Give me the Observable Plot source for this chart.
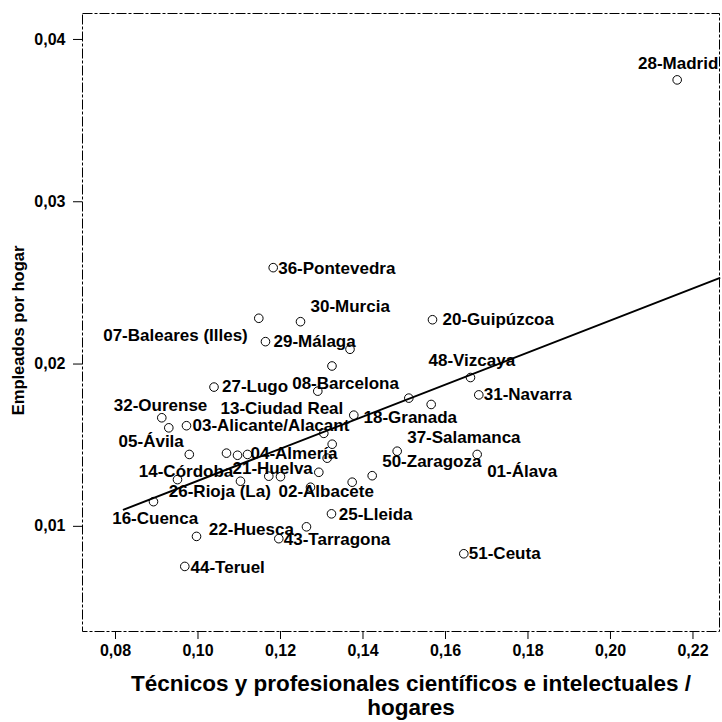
<!DOCTYPE html>
<html>
<head>
<meta charset="utf-8">
<script src="https://cdn.jsdelivr.net/npm/d3@7"></script>
<script src="https://cdn.jsdelivr.net/npm/@observablehq/plot@0.6"></script>
<style>
  html, body { margin: 0; padding: 0; background: #fff; }
  #chart svg { display: block; }
</style>
</head>
<body>
<div id="chart"></div>
<script>
// ---------- data ----------
const provinces = [
  "28-Madrid", "36-Pontevedra", "30-Murcia", "07-Baleares (Illes)", "29-Málaga",
  "", "", "20-Guipúzcoa", "48-Vizcaya", "31-Navarra",
  "27-Lugo", "08-Barcelona", "32-Ourense", "13-Ciudad Real", "03-Alicante/Alacant",
  "", "37-Salamanca", "18-Granada", "", "",
  "50-Zaragoza", "01-Álava", "05-Ávila", "", "",
  "04-Almería", "", "", "26-Rioja (La)", "",
  "21-Huelva", "", "", "14-Córdoba", "02-Albacete",
  "16-Cuenca", "25-Lleida", "", "22-Huesca", "43-Tarragona",
  "44-Teruel", "51-Ceuta"
];
const tecnicosPorHogar = [
  0.21617, 0.11823, 0.12485, 0.11474, 0.11636,
  0.13685, 0.13248, 0.15685, 0.16606, 0.16807,
  0.10388, 0.12904, 0.09122, 0.09292, 0.09721,
  0.15111, 0.15653, 0.13777, 0.13050, 0.13253,
  0.14829, 0.16768, 0.09789, 0.10691, 0.10958,
  0.11200, 0.13132, 0.12929, 0.11716, 0.12000,
  0.11030, 0.14223, 0.13738, 0.09503, 0.12727,
  0.08921, 0.13236, 0.12630, 0.09964, 0.11959,
  0.09680, 0.16444
];
const empleadosPorHogar = [
  0.03751, 0.02594, 0.02261, 0.02282, 0.02138,
  0.02091, 0.01988, 0.02273, 0.01917, 0.01810,
  0.01858, 0.01833, 0.01669, 0.01607, 0.01620,
  0.01790, 0.01751, 0.01685, 0.01573, 0.01506,
  0.01463, 0.01443, 0.01443, 0.01451, 0.01438,
  0.01443, 0.01420, 0.01333, 0.01309, 0.01306,
  0.01278, 0.01312, 0.01272, 0.01288, 0.01241,
  0.01152, 0.01077, 0.00997, 0.00938, 0.00924,
  0.00753, 0.00831
];
const xTicks = [0.08, 0.10, 0.12, 0.14, 0.16, 0.18, 0.20, 0.22];
const yTicks = [0.01, 0.02, 0.03, 0.04];
// linear fit line: y = intercept + slope * x, drawn over this x range
const fitIntercept = 0.00293;
const fitSlope = 0.0988;
const fitXRange = [0.082, 0.2264];
const xTitle = "Técnicos y profesionales científicos e intelectuales /\nhogares";
const yTitle = "Empleados por hogar";

// ---------- layout (label placement, pixels) ----------
const labelLayout = {
  "28-Madrid": ["middle", 1, -16],
  "36-Pontevedra": ["start", 5, 1],
  "30-Murcia": ["start", 10, -15],
  "07-Baleares (Illes)": ["end", -11, 17],
  "29-Málaga": ["start", 8, 0],
  "20-Guipúzcoa": ["start", 10, 0],
  "48-Vizcaya": ["start", -42, -16.5],
  "31-Navarra": ["start", 5, 0],
  "27-Lugo": ["start", 8, -1],
  "08-Barcelona": ["start", -25.6, -8],
  "32-Ourense": ["start", -48, -12.7],
  "13-Ciudad Real": ["start", 51.7, -19.5],
  "03-Alicante/Alacant": ["start", 6, 0],
  "37-Salamanca": ["start", -24, 33.4],
  "18-Granada": ["start", 9.7, 2],
  "50-Zaragoza": ["start", -15, 10],
  "01-Álava": ["start", 10, 16.7],
  "05-Ávila": ["end", -5.5, -13.3],
  "04-Almería": ["start", 3, -1.3],
  "26-Rioja (La)": ["start", -100, 15.7],
  "21-Huelva": ["start", -8, -13],
  "14-Córdoba": ["start", -38.7, -8.3],
  "02-Albacete": ["start", -32, 4.7],
  "16-Cuenca": ["start", -41.3, 16.4],
  "25-Lleida": ["start", 7.3, 0.8],
  "22-Huesca": ["start", 12.3, -6.7],
  "43-Tarragona": ["start", 5, 1],
  "44-Teruel": ["start", 5.7, 1],
  "51-Ceuta": ["start", 5, 0]
};

const fmt = d => d.toFixed(2).replace(".", ",");
const points = provinces.map((name, i) => ({name, x: tecnicosPorHogar[i], y: empleadosPorHogar[i]}));
const labeled = points.filter(d => d.name);
const fitLine = fitXRange.map(x => ({x, y: fitIntercept + fitSlope * x}));

const labelMarks = labeled.map(d => {
  const [anchor, dx, dy] = labelLayout[d.name] || ["start", 6, 0];
  return Plot.text([d], {x: "x", y: "y", text: "name", textAnchor: anchor, dx, dy,
    fontSize: 17, fontWeight: "bold", fill: "black"});
});

const chart = Plot.plot({
  width: 722,
  height: 722,
  marginLeft: 82,
  marginRight: 3,
  marginTop: 13,
  marginBottom: 91,
  style: {fontFamily: "'Liberation Sans', Arial, sans-serif", fontWeight: "bold", fontSize: "16px", background: "white", color: "black"},
  x: {domain: [0.0720, 0.22643], label: null},
  y: {domain: [0.00352, 0.04160], label: null},
  marks: [
    Plot.frame({stroke: "black", strokeWidth: 1, strokeDasharray: "10,2,3,2"}),
    Plot.axisX({ticks: xTicks, tickFormat: fmt, tickSize: 8, tickPadding: 5, fontSize: 16, label: null}),
    Plot.axisY({ticks: yTicks, tickFormat: fmt, tickSize: 9, tickPadding: 8, fontSize: 16, label: null}),
    Plot.line(fitLine, {x: "x", y: "y", stroke: "black", strokeWidth: 2}),
    Plot.dot(points, {x: "x", y: "y", r: 4.3, stroke: "black", fill: "none", strokeWidth: 1}),
    ...labelMarks,
    Plot.text([yTitle], {frameAnchor: "left", textAnchor: "middle", dx: -64, dy: 8, rotate: -90, fontSize: 16.5, fontWeight: "bold"}),
    Plot.text([xTitle], {frameAnchor: "bottom", textAnchor: "middle", lineAnchor: "middle", dx: 10, dy: 64, fontSize: 22.5, lineHeight: 1.08, fontWeight: "bold"})
  ]
});
document.getElementById("chart").appendChild(chart);
</script>
</body>
</html>
